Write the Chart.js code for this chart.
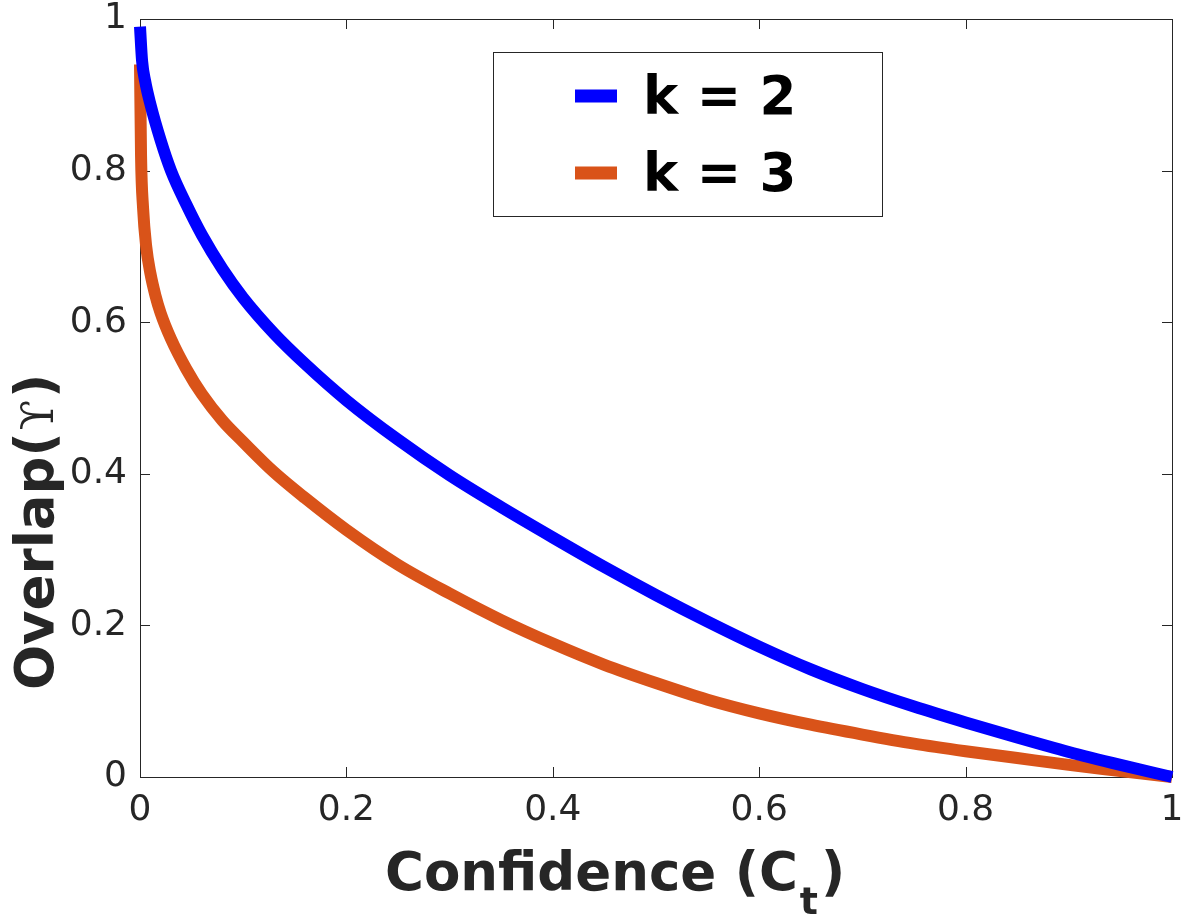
<!DOCTYPE html>
<html><head><meta charset="utf-8">
<script src="https://cdn.jsdelivr.net/npm/chart.js@4.4.1/dist/chart.umd.min.js"></script>
<style>html,body{margin:0;padding:0;background:#fff;}#wrap{width:1185px;height:919px;}</style>
</head><body><div id="wrap"><canvas id="c" width="1185" height="919"></canvas></div>
<script>
// ---- data ----
const confidenceK2 = [0, 0.002, 0.005, 0.01, 0.02, 0.03, 0.045, 0.06, 0.08, 0.1, 0.13, 0.16, 0.2, 0.25, 0.3, 0.35, 0.4, 0.45, 0.5, 0.55, 0.6, 0.65, 0.7, 0.75, 0.8, 0.85, 0.9, 0.95, 1.0];
const overlapK2    = [0.99, 0.945, 0.918, 0.888, 0.84, 0.80, 0.755, 0.715, 0.67, 0.632, 0.585, 0.545, 0.497, 0.445, 0.398, 0.356, 0.316, 0.277, 0.24, 0.205, 0.172, 0.142, 0.116, 0.093, 0.072, 0.052, 0.033, 0.016, 0];
const confidenceK3 = [0, 0.001, 0.003, 0.006, 0.01, 0.015, 0.02, 0.03, 0.045, 0.06, 0.08, 0.1, 0.13, 0.16, 0.2, 0.25, 0.3, 0.35, 0.4, 0.45, 0.5, 0.55, 0.6, 0.65, 0.7, 0.75, 0.8, 0.85, 0.9, 0.95, 1.0];
const overlapK3    = [0.94, 0.82, 0.75, 0.70, 0.665, 0.635, 0.612, 0.578, 0.538, 0.505, 0.47, 0.442, 0.402, 0.368, 0.326, 0.28, 0.242, 0.207, 0.176, 0.148, 0.124, 0.102, 0.084, 0.069, 0.056, 0.044, 0.034, 0.025, 0.016, 0.008, 0];
const seriesLabels = ['k = 2', 'k = 3'];
const xTickValues = [0, 0.2, 0.4, 0.6, 0.8, 1];
const xTickLabels = ['0', '0.2', '0.4', '0.6', '0.8', '1'];
const yTickValues = [0, 0.2, 0.4, 0.6, 0.8, 1];
const yTickLabels = ['0', '0.2', '0.4', '0.6', '0.8', '1'];
const xTitleParts = ['Confidence (C', 't', ')'];
const yTitleParts = ['Overlap(', '\u03D2', ')'];

const AX = '#262626';
const toPts = (xs, ys) => xs.map((x, i) => ({x: x, y: ys[i]}));

const framePlugin = {
  id: 'frame',
  beforeDatasetsDraw(chart) {
    const {ctx, chartArea: a, scales} = chart;
    ctx.save();
    ctx.strokeStyle = AX; ctx.lineWidth = 1;
    ctx.strokeRect(Math.round(a.left) + 0.5, Math.round(a.top) + 0.5, Math.round(a.right - a.left), Math.round(a.bottom - a.top));
    const tl = 10;
    ctx.beginPath();
    xTickValues.forEach(v => {
      const px = Math.round(scales.x.getPixelForValue(v)) + 0.5;
      ctx.moveTo(px, a.bottom); ctx.lineTo(px, a.bottom - tl);
      ctx.moveTo(px, a.top); ctx.lineTo(px, a.top + tl);
    });
    yTickValues.forEach(v => {
      const py = Math.round(scales.y.getPixelForValue(v)) + 0.5;
      ctx.moveTo(a.left, py); ctx.lineTo(a.left + tl, py);
      ctx.moveTo(a.right, py); ctx.lineTo(a.right - tl, py);
    });
    ctx.stroke();
    ctx.restore();
  },
  afterDraw(chart) {
    const {ctx, chartArea: a} = chart;
    ctx.save();
    // legend
    const lx = a.left + 353, ly = a.top + 33, lw = 389, lh = 164;
    ctx.fillStyle = '#fff';
    ctx.fillRect(lx, ly, lw, lh);
    ctx.strokeStyle = AX; ctx.lineWidth = 1;
    ctx.strokeRect(lx + 0.5, ly + 0.5, lw, lh);
    chart.data.datasets.forEach((ds, i) => {
      const cy = ly + 44 + i * 77;
      ctx.strokeStyle = ds.borderColor; ctx.lineWidth = 13; ctx.lineCap = 'butt';
      ctx.beginPath(); ctx.moveTo(lx + 82, cy); ctx.lineTo(lx + 124, cy); ctx.stroke();
      ctx.fillStyle = '#000';
      ctx.font = 'bold 53px "DejaVu Sans"';
      ctx.textBaseline = 'alphabetic'; ctx.textAlign = 'left';
      ctx.fillText(ds.label, lx + 150, cy + 18);
    });
    // x title
    ctx.fillStyle = AX;
    ctx.textBaseline = 'alphabetic'; ctx.textAlign = 'left';
    const bold = 'bold 53px "DejaVu Sans"', sub = 'bold 38px "DejaVu Sans"';
    ctx.font = bold; const w0 = ctx.measureText(xTitleParts[0]).width;
    ctx.font = sub; const w1 = ctx.measureText(xTitleParts[1]).width;
    let x0 = a.left + 245, by = 890;
    ctx.font = bold; ctx.fillText(xTitleParts[0], x0, by);
    ctx.font = sub; ctx.fillText(xTitleParts[1], x0 + w0 + 2, by + 24);
    ctx.font = bold; ctx.fillText(xTitleParts[2], x0 + w0 + w1 + 5, by);
    // y title (rotated)
    ctx.translate(53, 690);
    ctx.rotate(-Math.PI / 2);
    ctx.font = bold; ctx.fillText(yTitleParts[0], 0, 0);
    const v0 = ctx.measureText(yTitleParts[0]).width;
    ctx.font = '44px "DejaVu Serif"'; ctx.fillText(yTitleParts[1], v0 + 2, 0);
    const v1 = ctx.measureText(yTitleParts[1]).width;
    ctx.font = bold; ctx.fillText(yTitleParts[2], v0 + v1 + 4, 0);
    ctx.restore();
  }
};

new Chart(document.getElementById('c'), {
  type: 'line',
  data: {
    datasets: [
      {label: seriesLabels[0], data: toPts(confidenceK2, overlapK2), borderColor: '#0000FF', backgroundColor: '#0000FF'},
      {label: seriesLabels[1], data: toPts(confidenceK3, overlapK3), borderColor: '#D95319', backgroundColor: '#D95319'}
    ]
  },
  options: {
    responsive: false, animation: false, devicePixelRatio: 1,
    layout: {padding: {left: 0, top: 19, right: 13, bottom: 0}},
    elements: {
      point: {radius: 0, hoverRadius: 0},
      line: {borderWidth: 12, borderCapStyle: 'butt', borderJoinStyle: 'round', cubicInterpolationMode: 'monotone', fill: false}
    },
    datasets: {line: {clip: false}},
    plugins: {legend: {display: false}, tooltip: {enabled: false}, title: {display: false}},
    scales: {
      x: {
        type: 'linear', min: 0, max: 1,
        grid: {display: false, drawTicks: false},
        border: {display: false},
        afterBuildTicks: s => { s.ticks = xTickValues.map(v => ({value: v})); },
        afterFit: s => { s.height = 142; s.paddingLeft = 0; s.paddingRight = 0; },
        ticks: {padding: 12, color: AX, font: {family: 'DejaVu Sans', size: 36}, maxRotation: 0,
          callback: v => xTickLabels[xTickValues.indexOf(v)]}
      },
      y: {
        type: 'linear', min: 0, max: 1,
        grid: {display: false, drawTicks: false},
        border: {display: false},
        afterBuildTicks: s => { s.ticks = yTickValues.map(v => ({value: v})); },
        afterFit: s => { s.width = 140; s.paddingTop = 0; s.paddingBottom = 0; },
        ticks: {padding: 13, color: AX, font: {family: 'DejaVu Sans', size: 36},
          callback: v => yTickLabels[yTickValues.indexOf(v)]}
      }
    }
  },
  plugins: [framePlugin]
});
</script></body></html>
